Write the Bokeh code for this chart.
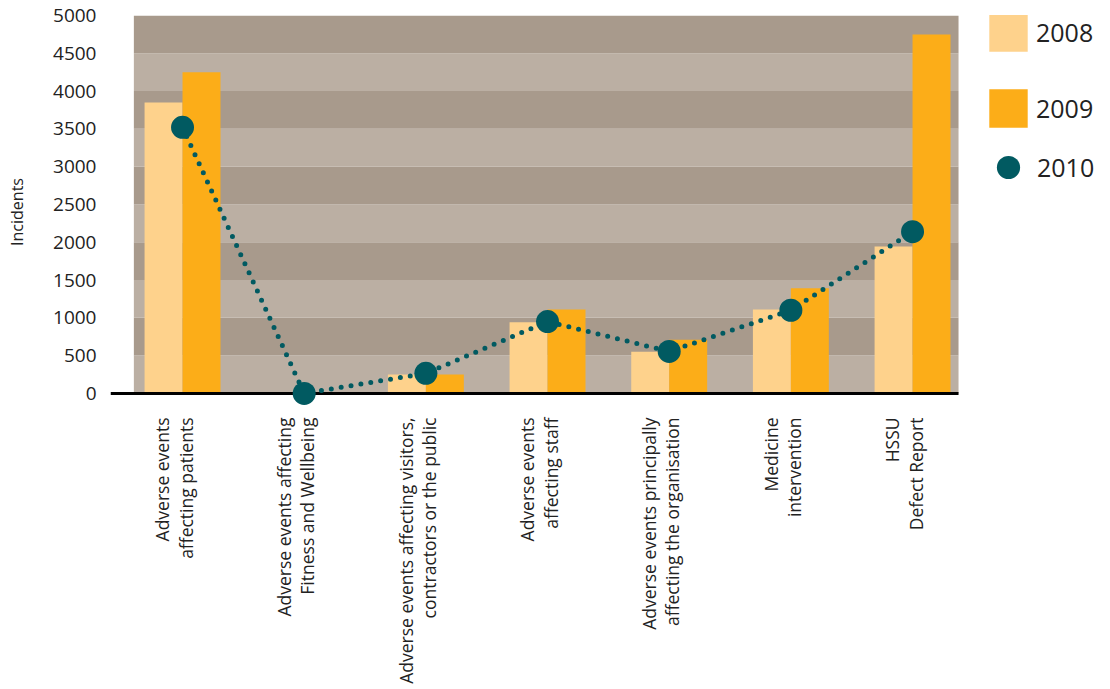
import numpy as np
from bokeh.plotting import figure
from bokeh.models import ColumnDataSource, Range1d, FixedTicker, Legend, LegendItem
from bokeh.embed import file_html
from bokeh.resources import INLINE

# ---- data ----
categories = [
    "Adverse events\naffecting patients",
    "Adverse events affecting\nFitness and Wellbeing",
    "Adverse events affecting visitors,\ncontractors or the public",
    "Adverse events\naffecting staff",
    "Adverse events principally\naffecting the organisation",
    "Medicine\nintervention",
    "HSSU\nDefect Report",
]
values_2008 = [3850, 0, 250, 940, 550, 1110, 1945]
values_2009 = [4250, 0, 250, 1110, 710, 1390, 4750]
values_2010 = [3520, 0, 265, 950, 555, 1100, 2140]
series_names = ["2008", "2009", "2010"]
y_ticks = [0, 500, 1000, 1500, 2000, 2500, 3000, 3500, 4000, 4500, 5000]
y_label = "Incidents"

# ---- style ----
C08 = "#fed28c"
C09 = "#fcad18"
C10 = "#015a61"
BAND_DARK = "#a89a8c"
BAND_LIGHT = "#bbafa3"
FONT = "Open Sans"
TXT = "#222222"

idx = np.arange(len(categories))
bar_w = 0.312
label_shift = 0.07
x_left, band_left, band_right, x_right = -0.592, -0.40, 6.378, 7.627

p = figure(width=1110, height=689, output_backend="svg", toolbar_location=None,
           x_range=Range1d(x_left, x_right), y_range=Range1d(-200, 5000),
           min_border_left=110, min_border_right=0, min_border_top=15, min_border_bottom=281)
p.outline_line_color = None
p.grid.visible = False
p.background_fill_color = "white"
p.border_fill_color = "white"

# background bands
band_bottoms = y_ticks[:-1]
band_tops = y_ticks[1:]
band_colors = [BAND_LIGHT if i % 2 == 0 else BAND_DARK for i in range(len(band_bottoms))]
p.quad(left=band_left, right=band_right, bottom=band_bottoms, top=band_tops,
       fill_color=band_colors, line_color=None)

src = ColumnDataSource(dict(x08=idx - bar_w / 2, x09=idx + bar_w / 2, x=idx,
                            v08=values_2008, v09=values_2009, v10=values_2010))
r08 = p.vbar(x="x08", top="v08", width=bar_w, source=src, fill_color=C08, line_color=None)
r09 = p.vbar(x="x09", top="v09", width=bar_w, source=src, fill_color=C09, line_color=None)

# baseline
p.segment(x0=[x_left], y0=[0], x1=[band_right], y1=[0], line_color="black", line_width=3)

p.line(x="x", y="v10", source=src, line_color=C10, line_width=5, line_dash="0 10",
       line_cap="round")
r10 = p.scatter(x="x", y="v10", source=src, size=23, fill_color=C10, line_color=None)

# axes
p.yaxis.ticker = FixedTicker(ticks=y_ticks)
p.yaxis.axis_line_color = None
p.yaxis.major_tick_line_color = None
p.yaxis.minor_tick_line_color = None
p.yaxis.major_label_standoff = 8
p.yaxis.major_label_text_font = FONT
p.yaxis.major_label_text_font_size = "19px"
p.yaxis.major_label_text_color = TXT
p.yaxis.axis_label = y_label
p.yaxis.axis_label_text_font = FONT
p.yaxis.axis_label_text_font_size = "16px"
p.yaxis.axis_label_text_font_style = "normal"
p.yaxis.axis_label_text_color = TXT
p.yaxis.axis_label_standoff = 22

label_pos = [float(i) - label_shift for i in idx]
p.xaxis.ticker = FixedTicker(ticks=label_pos)
p.xaxis.major_label_overrides = {pos: c for pos, c in zip(label_pos, categories)}
p.xaxis.major_label_orientation = np.pi / 2
p.xaxis.axis_line_color = None
p.xaxis.major_tick_line_color = None
p.xaxis.minor_tick_line_color = None
p.xaxis.major_label_standoff = 3
p.xaxis.major_label_text_font = FONT
p.xaxis.major_label_text_font_size = "17.5px"
p.xaxis.major_label_text_line_height = 0.97
p.xaxis.major_label_text_color = TXT

# legends
leg1 = Legend(items=[LegendItem(label=series_names[0], renderers=[r08]),
                     LegendItem(label=series_names[1], renderers=[r09])],
              location=(874, 276), glyph_width=48, glyph_height=48, spacing=28,
              padding=0, margin=0, label_standoff=4,
              label_text_font=FONT, label_text_font_size="25px", label_text_color=TXT,
              border_line_color=None, background_fill_alpha=0)
leg2 = Legend(items=[LegendItem(label=series_names[2], renderers=[r10])],
              location=(869, 212), glyph_width=58, glyph_height=58, spacing=0,
              padding=0, margin=0, label_standoff=0,
              label_text_font=FONT, label_text_font_size="25px", label_text_color=TXT,
              border_line_color=None, background_fill_alpha=0)
p.add_layout(leg1)
p.add_layout(leg2)

open("out.html", "w").write(file_html(p, INLINE))
